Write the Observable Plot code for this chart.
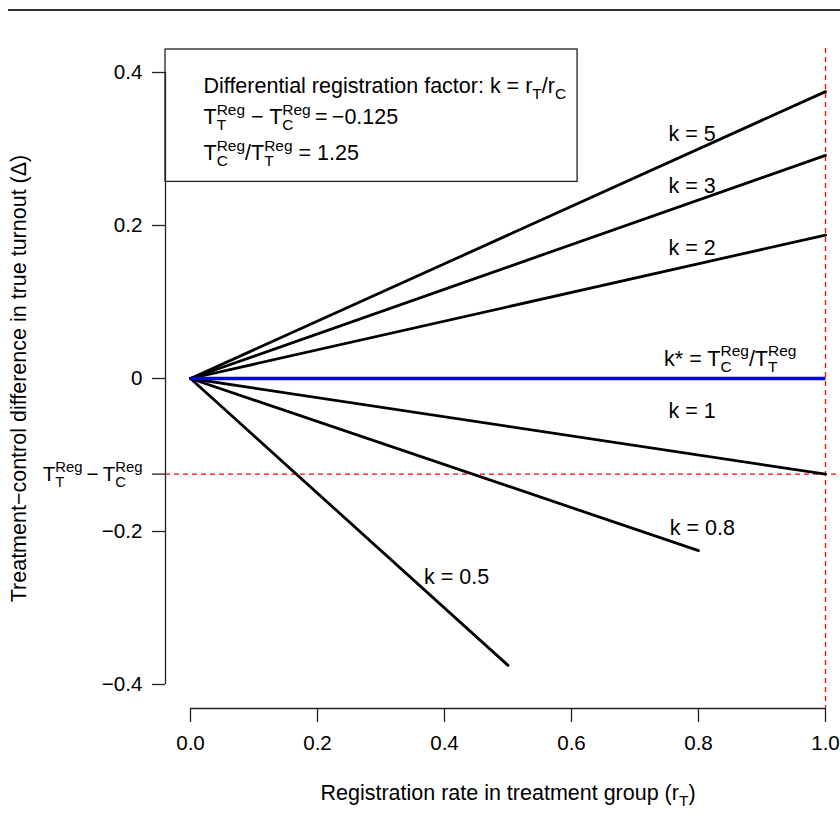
<!DOCTYPE html>
<html><head><meta charset="utf-8">
<script src="https://cdn.jsdelivr.net/npm/d3@7"></script>
<script src="https://cdn.jsdelivr.net/npm/@observablehq/plot@0.6"></script>
<style>
html,body{margin:0;padding:0;background:#fff;overflow:hidden;}
#wrap{position:relative;width:840px;height:828px;}
#rule{position:absolute;left:8px;top:9px;width:832px;height:2px;background:#333;}
#chart{position:absolute;left:0;top:0;}
</style></head><body>
<div id="wrap"><div id="chart"></div><div id="rule"></div></div>
<script>
// ---- data ----
const kLabels = ["k = 5", "k = 3", "k = 2", "k = 1", "k = 0.8", "k = 0.5"];
const kEndX = [1, 1, 1, 1, 0.8, 0.5];
const kEndY = [0.375, 0.2917, 0.1875, -0.125, -0.225, -0.375];
const kLabelX = [0.79, 0.79, 0.79, 0.79, 0.806, 0.419];
const kLabelY = [0.319, 0.252, 0.170, -0.042, -0.196, -0.26];
const origin = [0, 0];
const kStarEnd = [1, 0];
const kStarLabel = "k* = T_{C}^{Reg}/T_{T}^{Reg}";
const kStarLabelPos = [0.85, 0.026];
const diffReg = -0.125;      // T_T^Reg - T_C^Reg
const maxRate = 1;
const xTicks = [0, 0.2, 0.4, 0.6, 0.8, 1];
const xTickLabels = ["0.0", "0.2", "0.4", "0.6", "0.8", "1.0"];
const yTicks = [-0.4, -0.2, -0.125, 0, 0.2, 0.4];
const yTickLabels = ["\u22120.4", "\u22120.2", "T_{T}^{Reg}\u2009\u2212\u2009T_{C}^{Reg}", "0", "0.2", "0.4"];
const legendLines = [
  "Differential registration factor: k = r_{T}/r_{C}",
  "T_{T}^{Reg} \u2212 T_{C}^{Reg}\u2009=\u2009\u22120.125",
  "T_{C}^{Reg}/T_{T}^{Reg} = 1.25"
];
const xLabel = "Registration rate in treatment group (r_{T})";
const yLabel = "Treatment\u2212control difference in true turnout (\u0394)";

// ---- layout ----
const F = 21.5;
const FT = 20.6;
const FONT = "'Liberation Sans', Arial, Helvetica, sans-serif";
const legendDy = [14, 45, 81];

const lines = kLabels.map((l, i) => ({label: l, x2: kEndX[i], y2: kEndY[i], lx: kLabelX[i], ly: kLabelY[i]}));
const axisStroke = "#222";

const plot = Plot.plot({
  width: 840, height: 828,
  marginLeft: 190, marginRight: 15, marginTop: 72, marginBottom: 144,
  style: {fontFamily: FONT, fontSize: F + "px", color: "#000", background: "#fff", overflow: "visible"},
  x: {domain: [0, 1]},
  y: {domain: [-0.4, 0.4]},
  marks: [
    Plot.ruleX([maxRate], {stroke: "#ff0000", strokeDasharray: "5,4", strokeWidth: 1.3, insetTop: -24, insetBottom: -24}),
    Plot.ruleY([diffReg], {stroke: "#ff0000", strokeDasharray: "5,4", strokeWidth: 1.3, insetLeft: -25, insetRight: -40}),
    Plot.ruleX([d3.min(xTicks)], {y1: d3.min(yTicks), y2: d3.max(yTicks), dx: -25, stroke: axisStroke, strokeWidth: 1.3}),
    Plot.ruleY([d3.min(yTicks)], {x1: d3.min(xTicks), x2: d3.max(xTicks), dy: 24, stroke: axisStroke, strokeWidth: 1.3}),
    Plot.axisY(yTicks, {tickSize: 13, tickPadding: 10, dx: -25, stroke: axisStroke, strokeWidth: 1.3,
      tickFormat: d => yTickLabels[yTicks.indexOf(d)], label: null, fontSize: FT}),
    Plot.axisX(xTicks, {tickSize: 14, tickPadding: 13, dy: 24, stroke: axisStroke, strokeWidth: 1.3,
      tickFormat: d => xTickLabels[xTicks.indexOf(d)], label: null, fontSize: FT}),
    Plot.link(lines, {x1: () => origin[0], y1: () => origin[1], x2: "x2", y2: "y2", stroke: "#000", strokeWidth: 2.8, strokeLinecap: "round"}),
    Plot.link([kStarEnd], {x1: () => origin[0], y1: () => origin[1], x2: d => d[0], y2: d => d[1], stroke: "#0000ff", strokeWidth: 3.3}),
    Plot.text(lines, {x: "lx", y: "ly", text: "label", fontSize: F, fill: "#000"}),
    Plot.text([kStarLabel], {x: () => kStarLabelPos[0], y: () => kStarLabelPos[1], text: d => d, fontSize: F, fill: "#000"}),
    ...legendLines.map((t, i) => Plot.text([t], {frameAnchor: "top-left", dx: 13, dy: legendDy[i], text: d => d,
      textAnchor: "start", lineAnchor: "middle", fontSize: F, fill: "#000"})),
    Plot.text([xLabel], {frameAnchor: "bottom", dy: 109, text: d => d, textAnchor: "middle", lineAnchor: "middle", fontSize: F, fill: "#000"}),
    Plot.text([yLabel], {frameAnchor: "left", dx: -171, rotate: -90, text: d => d, textAnchor: "middle", lineAnchor: "middle", fontSize: F, fill: "#000"})
  ]
});
document.getElementById("chart").appendChild(plot);

// ---- plotmath-like rendering of sub/superscripts ----
const ctx = document.createElement("canvas").getContext("2d");
function measure(txt, size) { ctx.font = `${size}px ${FONT}`; return ctx.measureText(txt).width; }
function parseMath(s) {
  const segs = []; let buf = ""; let i = 0;
  while (i < s.length) {
    const c = s[i];
    if ((c === "_" || c === "^") && s[i + 1] === "{") {
      const j = s.indexOf("}", i);
      const content = s.slice(i + 2, j);
      const key = c === "_" ? "sub" : "sup";
      if (buf) { segs.push({t: buf}); buf = ""; }
      let last = segs[segs.length - 1];
      if (!(last && last.script && !last[key])) { last = {script: true}; segs.push(last); }
      last[key] = content;
      i = j + 1; continue;
    }
    buf += c; i++;
  }
  if (buf) segs.push({t: buf});
  return segs;
}
function renderMath(el, s) {
  const Fz = parseFloat(getComputedStyle(el).fontSize) || F;
  const sF = Fz * 0.72;
  const segs = parseMath(s);
  while (el.firstChild) el.removeChild(el.firstChild);
  const ns = "http://www.w3.org/2000/svg";
  let off = 0, pendingDx = 0;
  const add = (txt, size, target, dx) => {
    const t = document.createElementNS(ns, "tspan");
    t.textContent = txt;
    if (size !== Fz) t.setAttribute("font-size", size);
    const dy = target - off;
    if (dy) t.setAttribute("dy", dy);
    if (dx) t.setAttribute("dx", dx);
    off = target;
    el.appendChild(t);
  };
  const supOff = -0.42 * Fz, subOff = 0.28 * Fz;
  for (const seg of segs) {
    if (!seg.script) { add(seg.t, Fz, 0, pendingDx); pendingDx = 0; continue; }
    if (seg.sup && seg.sub) {
      const wSup = measure(seg.sup, sF), wSub = measure(seg.sub, sF);
      add(seg.sup, sF, supOff, pendingDx);
      add(seg.sub, sF, subOff, -wSup);
      pendingDx = Math.max(0, wSup - wSub);
    } else if (seg.sup) { add(seg.sup, sF, supOff, pendingDx); pendingDx = 0; }
    else { add(seg.sub, sF, subOff, pendingDx); pendingDx = 0; }
  }
  if (pendingDx) {
    const sw = measure("\u00A0", Fz);
    add("\u00A0", Fz, 0, pendingDx - sw);
  }
}
const legendEls = [];
plot.querySelectorAll("text").forEach(el => {
  const s = el.textContent;
  if (legendLines.includes(s)) legendEls.push(el);
  if (s.includes("_{") || s.includes("^{")) renderMath(el, s);
});

// ---- legend box around legend text ----
const svgRect = plot.getBoundingClientRect();
let right = -Infinity, bottom = -Infinity;
legendEls.forEach(el => {
  const b = el.getBoundingClientRect();
  right = Math.max(right, b.right - svgRect.left);
  bottom = Math.max(bottom, b.bottom - svgRect.top);
});
const bx = 190 - 25, by = 72 - 23;
const rect = document.createElementNS("http://www.w3.org/2000/svg", "rect");
rect.setAttribute("x", bx); rect.setAttribute("y", by);
rect.setAttribute("width", Math.max(0, right + 11 - bx)); rect.setAttribute("height", Math.max(0, bottom + 12 - by));
rect.setAttribute("fill", "none"); rect.setAttribute("stroke", axisStroke); rect.setAttribute("stroke-width", 1.3);
plot.appendChild(rect);
</script>
</body></html>
